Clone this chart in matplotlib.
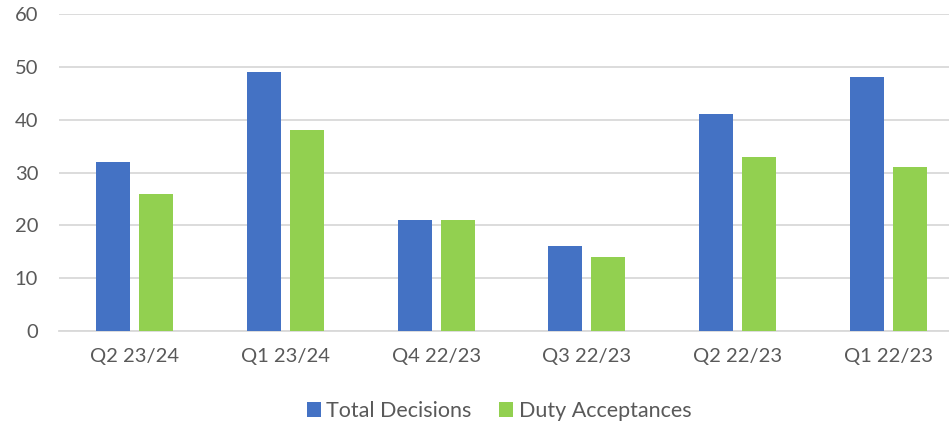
import matplotlib.pyplot as plt
import numpy as np

quarters = ['Q2 23/24', 'Q1 23/24', 'Q4 22/23', 'Q3 22/23', 'Q2 22/23', 'Q1 22/23']
total_decisions = [32, 49, 21, 16, 41, 48]
duty_acceptances = [26, 38, 21, 14, 33, 31]

plt.rcParams['font.family'] = ['Lato', 'DejaVu Sans']

fig = plt.figure(figsize=(9.49, 4.26), dpi=100)
ax = fig.add_axes([59 / 949, 1 - 331 / 426, 905 / 949, (331 - 14) / 426])

x = np.arange(len(quarters))
w = 0.225
off = 0.1425
ax.bar(x - off, total_decisions, w, color='#4472C4', label='Total Decisions', zorder=3)
ax.bar(x + off, duty_acceptances, w, color='#92D050', label='Duty Acceptances', zorder=3)

ax.set_xlim(-0.5, 5.5)
ax.set_ylim(0, 60)
ax.set_yticks(range(0, 61, 10))
ax.set_xticks(x)
ax.set_xticklabels(quarters)
ax.grid(axis='y', color='#D9D9D9', linewidth=1.3, zorder=0)
for s in ['top', 'right', 'left']:
    ax.spines[s].set_visible(False)
ax.spines['bottom'].set_color('#D9D9D9')
ax.spines['bottom'].set_linewidth(1.3)
ax.tick_params(axis='both', length=0, labelsize=14.5, labelcolor='#595959')
ax.tick_params(axis='x', pad=12)
ax.tick_params(axis='y', pad=15)

fig.legend(loc='center', bbox_to_anchor=(499 / 949, 1 - 411 / 426), ncol=2, frameon=False,
           fontsize=15.5, labelcolor='#595959', handlelength=0.65, handleheight=0.65,
           handletextpad=0.25, columnspacing=1.3)

fig.savefig('out.png', dpi=100)
